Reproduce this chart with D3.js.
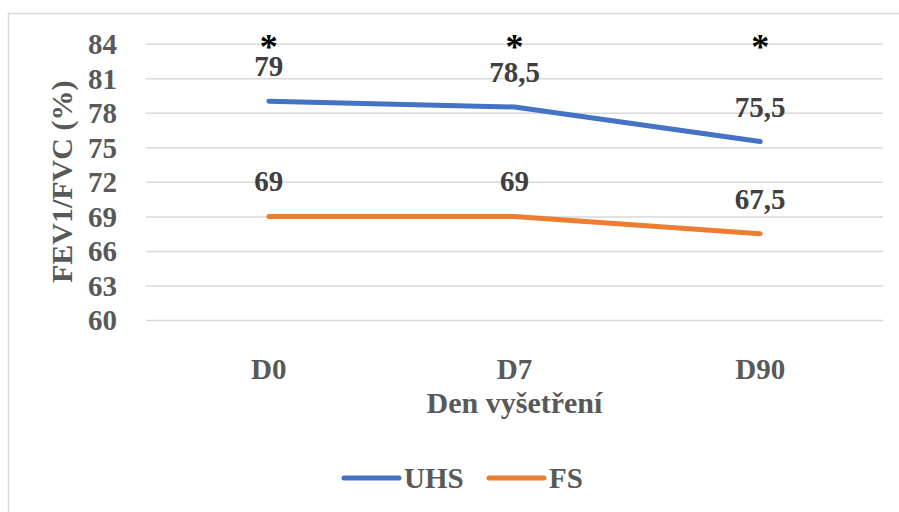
<!DOCTYPE html>
<html>
<head>
<meta charset="utf-8">
<script src="https://cdn.jsdelivr.net/npm/d3@7"></script>
<style>
  body { margin: 0; background: #fff; }
  svg text { font-family: "Liberation Serif", "Tinos", "DejaVu Serif", serif; }
</style>
</head>
<body>
<div id="chart"></div>
<script>
const days = ["D0", "D7", "D90"];
const uhs = [79, 78.5, 75.5];
const fs = [69, 69, 67.5];
const yTicks = [60, 63, 66, 69, 72, 75, 78, 81, 84];
const marks = ["*", "*", "*"];
const seriesNames = ["UHS", "FS"];
const seriesColors = ["#4472C4", "#ED7D31"];

const width = 899, height = 512;
const marginLeft = 146, marginRight = 16, marginTop = 43.7, plotBottom = 320;

const fmt = v => String(v).replace(".", ",");

const x = d3.scaleBand().domain(days).range([marginLeft, width - marginRight]);
const y = d3.scaleLinear().domain([60, 84]).range([plotBottom, marginTop]);

const svg = d3.select("#chart").append("svg")
  .attr("width", width)
  .attr("height", height)
  .attr("viewBox", [0, 0, width, height]);

// chart frame
svg.append("rect")
  .attr("x", 8.5).attr("y", 13.5)
  .attr("width", width + 10).attr("height", height + 10)
  .attr("fill", "#fff")
  .attr("stroke", "#d9d9d9")
  .attr("stroke-width", 1.5);

// y axis + gridlines
svg.append("g")
  .attr("transform", `translate(${marginLeft},0)`)
  .call(d3.axisLeft(y).tickValues(yTicks).tickSize(0).tickPadding(29))
  .call(g => g.select(".domain").remove())
  .call(g => g.selectAll(".tick line").clone()
    .attr("x2", width - marginLeft - marginRight)
    .attr("stroke", "#d9d9d9")
    .attr("stroke-width", 1.5))
  .call(g => g.selectAll(".tick text")
    .attr("fill", "#595959")
    .attr("font-size", 29)
    .attr("font-weight", "bold")
    .attr("dy", "0.34em"));

// x axis labels
svg.append("g")
  .attr("transform", `translate(0,${plotBottom})`)
  .call(d3.axisBottom(x).tickSize(0).tickPadding(38))
  .call(g => g.select(".domain").remove())
  .call(g => g.selectAll(".tick text")
    .attr("fill", "#595959")
    .attr("font-size", 29)
    .attr("font-weight", "bold"));

// axis titles
svg.append("text")
  .attr("x", (marginLeft + width - marginRight) / 2)
  .attr("y", 413)
  .attr("text-anchor", "middle")
  .attr("fill", "#595959")
  .attr("font-size", 30)
  .attr("font-weight", "bold")
  .text("Den vyšetření");

svg.append("text")
  .attr("transform", `translate(72,${(marginTop + plotBottom) / 2}) rotate(-90)`)
  .attr("text-anchor", "middle")
  .attr("fill", "#595959")
  .attr("font-size", 30)
  .attr("font-weight", "bold")
  .text("FEV1/FVC (%)");

const cx = d => x(d) + x.bandwidth() / 2;
const line = d3.line()
  .x((d, i) => cx(days[i]))
  .y(d => y(d));

[uhs, fs].forEach((vals, s) => {
  svg.append("path")
    .attr("fill", "none")
    .attr("stroke", seriesColors[s])
    .attr("stroke-width", 5)
    .attr("stroke-linecap", "round")
    .attr("stroke-linejoin", "round")
    .attr("d", line(vals));

  svg.append("g")
    .selectAll("text")
    .data(vals)
    .join("text")
    .attr("x", (d, i) => cx(days[i]))
    .attr("y", d => y(d) - 25)
    .attr("text-anchor", "middle")
    .attr("fill", "#404040")
    .attr("font-size", 29)
    .attr("font-weight", "bold")
    .text(d => fmt(d));
});

// significance marks
svg.append("g")
  .selectAll("text")
  .data(marks)
  .join("text")
  .attr("x", (d, i) => cx(days[i]))
  .attr("y", 59)
  .attr("text-anchor", "middle")
  .attr("fill", "#000")
  .attr("font-size", 36)
  .attr("font-weight", "bold")
  .text(d => d);

// legend
const legend = svg.append("g");
const legendX = [344, 489];
seriesNames.forEach((name, i) => {
  legend.append("line")
    .attr("x1", legendX[i]).attr("x2", legendX[i] + 55)
    .attr("y1", 478).attr("y2", 478)
    .attr("stroke", seriesColors[i])
    .attr("stroke-width", 5)
    .attr("stroke-linecap", "round");
  legend.append("text")
    .attr("x", legendX[i] + 60)
    .attr("y", 488)
    .attr("fill", "#595959")
    .attr("font-size", 29)
    .attr("font-weight", "bold")
    .text(name);
});
</script>
</body>
</html>
